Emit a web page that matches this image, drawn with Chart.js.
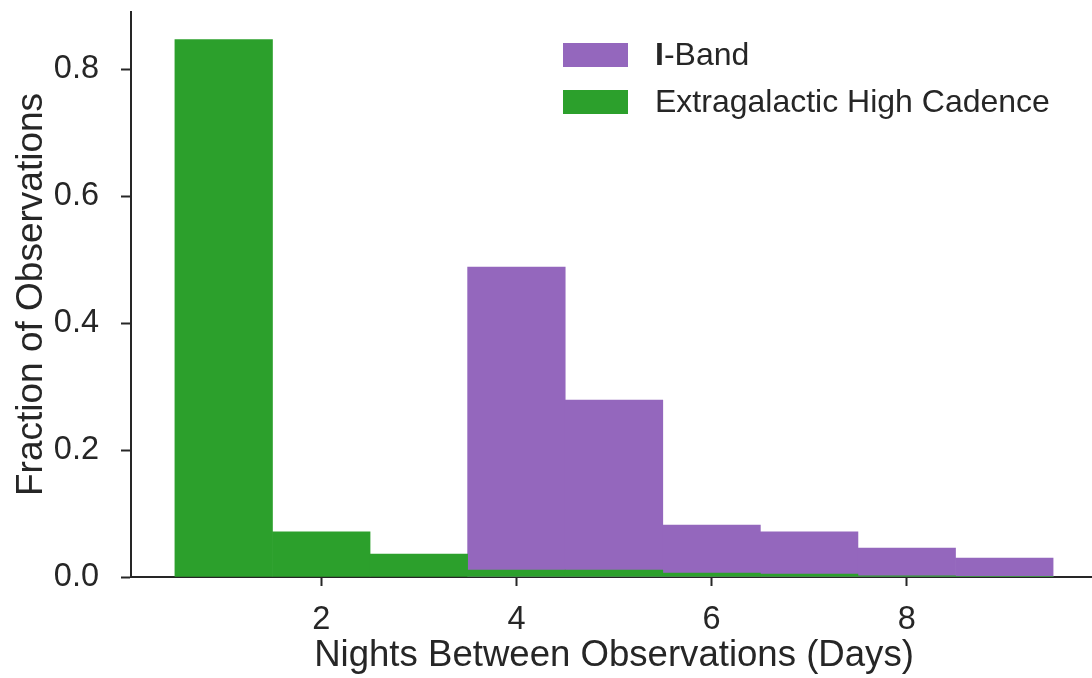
<!DOCTYPE html>
<html>
<head>
<meta charset="utf-8">
<script src="https://cdn.jsdelivr.net/npm/chart.js@4/dist/chart.umd.min.js"></script>
<style>
  html, body { margin: 0; padding: 0; background: #ffffff; overflow: hidden; }
  #wrap { position: relative; width: 1100px; height: 678px; }
</style>
</head>
<body>
<div id="wrap"><canvas id="chart"></canvas></div>
<script>
// Histogram bins: centres of 1-night-wide bins (edges at 0.5 ... 9.5)
const greenBins = [1, 2, 3, 4, 5, 6, 7, 8, 9];
const greenValues = [0.847, 0.071, 0.036, 0.011, 0.011, 0.0063, 0.0047, 0.002, 0.001];
const purpleBins = [4, 5, 6, 7, 8, 9];
const purpleValues = [0.4886, 0.279, 0.082, 0.071, 0.0457, 0.030];
const xTickValues = [2, 4, 6, 8];
const yTickValues = [0, 0.2, 0.4, 0.6, 0.8];
const seriesNames = ['I-Band', 'Extragalactic High Cadence'];

const INK = '#262626';
const FONT = '"Liberation Sans", Arial, sans-serif';

function toPoints(xs, ys) {
  return xs.map((x, i) => ({ x: x, y: ys[i] }));
}

// Legend drawn in the upper right of the plot area; a leading "I" is set in bold
const cornerLegend = {
  id: 'cornerLegend',
  afterDraw(chart) {
    const ctx = chart.ctx;
    const area = chart.chartArea;
    ctx.save();
    ctx.textBaseline = 'middle';
    ctx.textAlign = 'left';
    chart.data.datasets.forEach((ds, row) => {
      const top = area.top + 31 + row * 47;
      const left = area.left + 432;
      ctx.fillStyle = ds.backgroundColor;
      ctx.fillRect(left, top, 65, 24);
      ctx.fillStyle = INK;
      let x = left + 92;
      let rest = ds.label;
      if (rest.startsWith('I-')) {
        ctx.font = 'bold 32px ' + FONT;
        ctx.fillText('I', x, top + 13);
        x += ctx.measureText('I').width;
        rest = rest.slice(1);
      }
      ctx.font = '32px ' + FONT;
      ctx.fillText(rest, x, top + 13);
    });
    ctx.restore();
  }
};

new Chart(document.getElementById('chart'), {
  type: 'bar',
  data: {
    datasets: [
      {
        label: seriesNames[0],
        data: toPoints(purpleBins, purpleValues),
        backgroundColor: '#9467bd',
        borderWidth: 0,
        barPercentage: 1.0,
        categoryPercentage: 1.0,
        order: 1
      },
      {
        label: seriesNames[1],
        data: toPoints(greenBins, greenValues),
        backgroundColor: '#2ca02c',
        borderWidth: 0,
        barPercentage: 1.0,
        categoryPercentage: 1.0,
        order: 0
      }
    ]
  },
  options: {
    responsive: true,
    maintainAspectRatio: false,
    animation: false,
    devicePixelRatio: 1,
    grouped: false,
    layout: { padding: { top: 12, right: 3, left: 0, bottom: 0 } },
    plugins: {
      legend: { display: false },
      tooltip: { enabled: false }
    },
    scales: {
      x: {
        type: 'linear',
        offset: false,
        min: 0.05,
        max: 9.95,
        afterBuildTicks(scale) { scale.ticks = xTickValues.map(v => ({ value: v })); },
        afterFit(scale) {
          scale.height = 101;
          scale.paddingLeft = 0;
          scale.paddingRight = 0;
        },
        ticks: {
          color: INK,
          font: { family: FONT, size: 32.5 },
          padding: 15,
          maxRotation: 0,
          callback: v => String(v)
        },
        grid: {
          display: true,
          offset: false,
          drawOnChartArea: false,
          drawTicks: true,
          tickLength: 9,
          tickWidth: 2,
          color: INK
        },
        border: { display: true, color: INK, width: 2 },
        title: {
          display: true,
          text: 'Nights Between Observations (Days)',
          color: INK,
          font: { family: FONT, size: 36.6 },
          padding: { top: 4, bottom: 0 }
        }
      },
      y: {
        type: 'linear',
        min: 0,
        max: 0.8904,
        afterBuildTicks(scale) { scale.ticks = yTickValues.map(v => ({ value: v })); },
        afterFit(scale) {
          scale.width = 131;
          scale.paddingTop = 0;
          scale.paddingBottom = 0;
        },
        ticks: {
          color: INK,
          font: { family: FONT, size: 32.5 },
          padding: 22,
          callback: v => Number(v).toFixed(1)
        },
        grid: {
          display: true,
          offset: false,
          drawOnChartArea: false,
          drawTicks: true,
          tickLength: 10,
          tickWidth: 2,
          color: INK
        },
        border: { display: true, color: INK, width: 2 },
        title: {
          display: true,
          text: 'Fraction of Observations',
          color: INK,
          font: { family: FONT, size: 37 },
          padding: { top: 10, bottom: 0 }
        }
      }
    }
  },
  plugins: [cornerLegend]
});
</script>
</body>
</html>
